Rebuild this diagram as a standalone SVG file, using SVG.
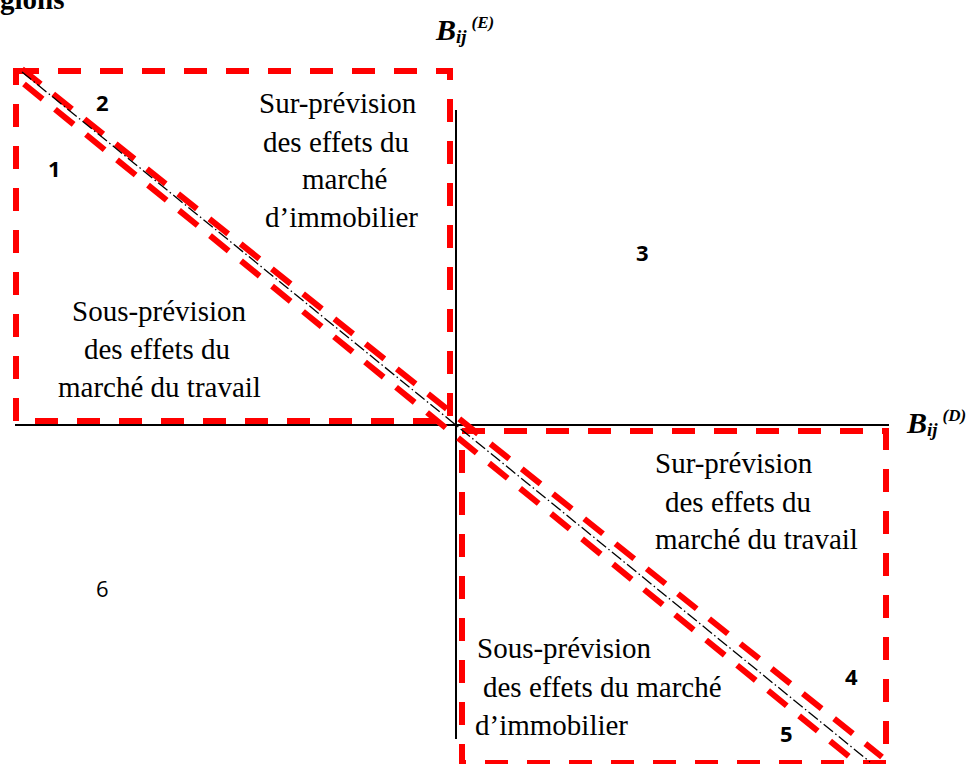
<svg xmlns="http://www.w3.org/2000/svg" width="970" height="764" viewBox="0 0 970 764">
<style>
.t{font-family:"Liberation Serif","Times New Roman",serif;font-size:29px;fill:#000}
.n{font-family:"Open Sans","Liberation Sans",Arial,sans-serif;font-size:22px;font-weight:bold;fill:#000}
.n6{font-family:"Open Sans","Liberation Sans",Arial,sans-serif;font-size:22px;font-weight:normal;fill:#000}
.ax{font-family:"Liberation Serif","Times New Roman",serif;font-weight:bold;font-style:italic;fill:#000}
.red{fill:none;stroke:#ff0000;stroke-width:6;stroke-dasharray:23 19}
.diag{fill:none;stroke:#ff0000;stroke-width:6;stroke-dasharray:24 16}
.axis{stroke:#000;stroke-width:2;fill:none}
</style>
<rect width="970" height="764" fill="#fff"/>
<text x="0" y="9" class="t" font-weight="bold">gions</text>
<g id="axes">
<line class="axis" x1="15" y1="425" x2="889" y2="425"/>
<line class="axis" x1="456" y1="110" x2="456" y2="739"/>
</g>
<g id="region-box-top-left"><rect class="red" x="16" y="71" width="434" height="350"/></g>
<g id="region-box-bottom-right"><rect class="red" x="462" y="431" width="424" height="332"/></g>
<g id="connectors">
<line class="diag" x1="22" y1="69" x2="882" y2="757"/>
<line class="diag" x1="24" y1="84" x2="857" y2="763"/>
<line x1="22" y1="72" x2="870" y2="762" stroke="#000" stroke-width="1.3" stroke-dasharray="12 3 1.5 3"/>
</g>
<g id="label-E"><text class="ax" x="436" y="40" font-size="30">B<tspan font-size="19" dy="3">ij</tspan><tspan font-size="17" dx="5" dy="-15">(E)</tspan></text></g>
<g id="label-D"><text class="ax" x="907" y="433" font-size="30">B<tspan font-size="19" dy="3">ij</tspan><tspan font-size="17" dx="5" dy="-15">(D)</tspan></text></g>
<g id="text-sur-immobilier">
<text class="t" x="259" y="113">Sur-prévision</text>
<text class="t" x="263" y="152">des effets du</text>
<text class="t" x="302" y="189">marché</text>
<text class="t" x="265" y="227">d’immobilier</text>
</g>
<g id="text-sous-travail">
<text class="t" x="72" y="321">Sous-prévision</text>
<text class="t" x="84" y="359">des effets du</text>
<text class="t" x="58" y="397">marché du travail</text>
</g>
<g id="text-sur-travail">
<text class="t" x="655" y="473">Sur-prévision</text>
<text class="t" x="665" y="512">des effets du</text>
<text class="t" x="655" y="549">marché du travail</text>
</g>
<g id="text-sous-immobilier">
<text class="t" x="477" y="658">Sous-prévision</text>
<text class="t" x="483" y="697">des effets du marché</text>
<text class="t" x="475" y="735">d’immobilier</text>
</g>
<g id="numbers">
<text class="n" x="48" y="177">1</text>
<text class="n" x="96" y="111">2</text>
<text class="n" x="636" y="261">3</text>
<text class="n" x="845" y="685">4</text>
<text class="n" x="780" y="742">5</text>
<text class="n6" x="96" y="597">6</text>
</g>
</svg>
